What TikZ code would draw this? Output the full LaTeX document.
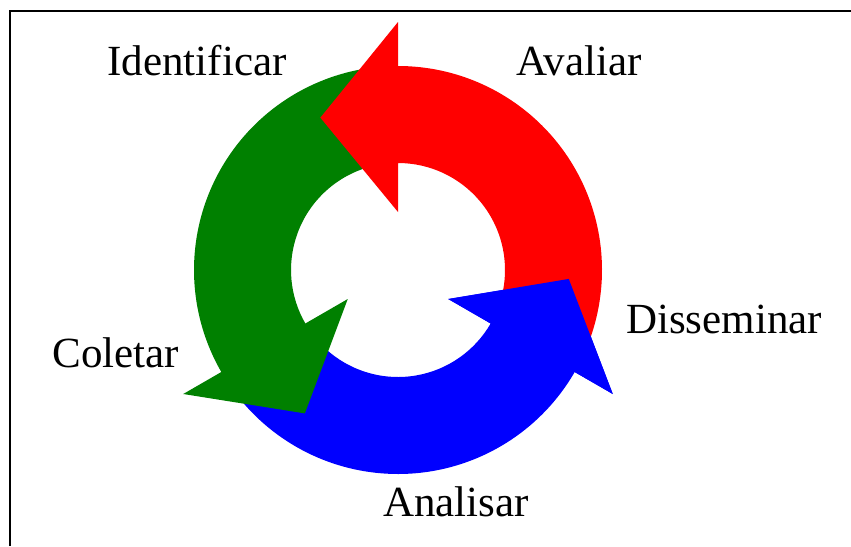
\documentclass[tikz,border=0pt]{standalone}
\usepackage{fontspec}
\setmainfont{Liberation Serif}
\definecolor{pgreen}{RGB}{0,128,0}
\definecolor{pred}{RGB}{255,0,0}
\definecolor{pblue}{RGB}{0,0,255}
\def\Ro{204}
\def\Ri{107}
\def\Bi{58}
\def\Bo{248}
\def\Rt{171}
% #1 colour, #2 base angle of head, #3 tail angle
\newcommand\ringarrow[3]{%
  \fill[#1] ([shift={(#2:\Ro)}]c) arc[start angle=#2, end angle=#3, radius=\Ro]
    -- ([shift={(#3:\Ri)}]c) arc[start angle=#3, end angle=#2, radius=\Ri]
    -- ([shift={(#2:\Bi)}]c) -- ([shift={(#2+27:\Rt)}]c)
    -- ([shift={(#2:\Bo)}]c) -- cycle;}
\newcommand\ringhead[2]{%
  \fill[#1] ([shift={(#2:\Bi)}]c) -- ([shift={(#2+27:\Rt)}]c)
    -- ([shift={(#2:\Bo)}]c) -- cycle;}
\begin{document}
\begin{tikzpicture}[x=1pt,y=1pt,
  lbl/.style={font=\fontsize{43}{50}\selectfont, inner sep=0pt, anchor=base},
  frameline/.style={line width=2pt, draw=black}]
\useasboundingbox (0,0) rectangle (851,-546);
\fill[white] (0,0) rectangle (851,-546);
\draw[frameline] (10,-546) -- (10,-11) -- (851,-11);
\coordinate (c) at (398,-270);
\ringarrow{pblue}{330}{220}
\ringarrow{pgreen}{210}{100}
\ringarrow{pred}{90}{-20}
\ringhead{pblue}{330}
\node[lbl] (ident) at (197,-75) {Identificar};
\node[lbl] (aval) at (579,-75) {Avaliar};
\node[lbl] (diss) at (724,-333) {Disseminar};
\node[lbl] (colet) at (116,-367) {Coletar};
\node[lbl] (anal) at (456,-516) {Analisar};
\end{tikzpicture}
\end{document}
